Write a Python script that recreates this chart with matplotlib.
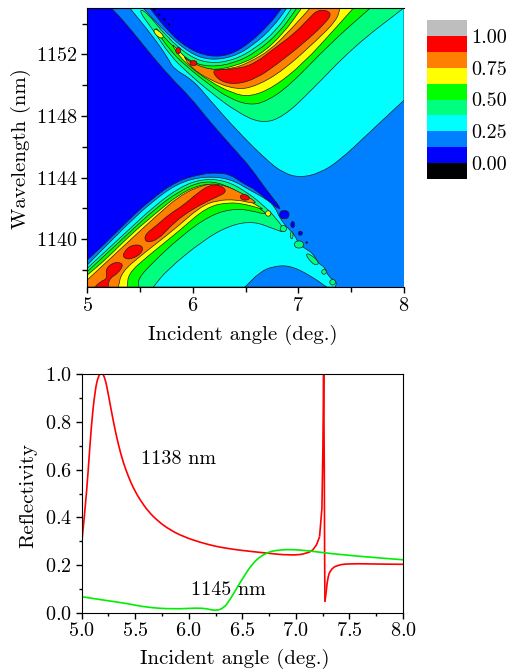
import matplotlib
matplotlib.use('Agg')
import matplotlib.pyplot as plt
from matplotlib.colors import ListedColormap
from matplotlib.path import Path
from matplotlib.patches import PathPatch

plt.rcParams['font.family'] = ['cmr10', 'Liberation Serif', 'DejaVu Serif']
plt.rcParams['axes.formatter.use_mathtext'] = True
plt.rcParams['font.size'] = 14

W, H = 507, 671

BLUE = '#0000ff'
AZURE = '#007fff'
CYAN = '#00ffff'
SPRING = '#00ff7f'
GREEN = '#00ff00'
YELLOW = '#ffff00'
ORANGE = '#ff7f00'
RED = '#ff0000'
bar_colors = ['#000000', BLUE, AZURE, CYAN, SPRING, GREEN, YELLOW, ORANGE, RED, '#bebebe']
bar_levels = [-0.125 + 0.125 * i for i in range(11)]
bar_ticks = [0.0, 0.25, 0.5, 0.75, 1.0]

# contour outlines (angle, wavelength)
blue_left = [(5, 1155), (5.233, 1155), (5.375, 1153.96), (5.596, 1152.06), (5.801, 1150.43), (5.975, 1149.24),
             (6.164, 1147.62), (6.416, 1145.67), (6.543, 1144.70), (6.70, 1143.18), (6.86, 1141.8), (6.74, 1142.3),
             (6.606, 1143.18), (6.48, 1143.61), (6.353, 1144.22), (6.227, 1144.31), (6.10, 1144.26), (5.849, 1143.79),
             (5.596, 1142.53), (5.375, 1141.13), (5.155, 1139.61), (5.0, 1138.64)]
blue_pocket = [(5.596, 1155), (5.785, 1153.35), (5.975, 1152.3), (6.164, 1151.85), (6.353, 1151.95), (6.543, 1152.75),
               (6.732, 1154.0), (6.842, 1155)]

top_cyan = [(5.407, 1155), (5.628, 1153.14), (5.77, 1151.73), (5.817, 1151.08), (6.006, 1150.32), (6.164, 1149.03),
            (6.416, 1147.08), (6.70, 1145.13), (6.858, 1144.3), (7.016, 1144.0), (7.205, 1144.3), (7.394, 1145.13),
            (7.678, 1146.97), (8, 1149.03), (8, 1155), (6.89, 1155), (6.763, 1153.79), (6.574, 1152.6),
            (6.385, 1151.84), (6.164, 1151.62), (5.975, 1152.06), (5.754, 1153.35), (5.533, 1155)]
top_spring = [(5.486, 1154.87), (5.628, 1153.57), (5.785, 1151.95), (5.943, 1150.87), (6.164, 1149.57), (6.416, 1148.27),
              (6.653, 1147.5), (6.858, 1147.95), (7.11, 1149.57), (7.52, 1152.49), (7.994, 1155), (6.937, 1155),
              (6.795, 1153.57), (6.59, 1152.38), (6.385, 1151.62), (6.164, 1151.41), (5.975, 1151.84), (5.754, 1153.14),
              (5.549, 1154.87)]
top_green = [(5.644, 1153.68), (5.785, 1152.27), (5.927, 1151.3), (6.164, 1150.0), (6.353, 1149.13), (6.543, 1148.7),
             (6.70, 1148.95), (6.921, 1150.0), (7.30, 1152.71), (7.678, 1155), (6.984, 1155), (6.826, 1153.46),
             (6.606, 1152.16), (6.385, 1151.41), (6.164, 1151.19), (5.975, 1151.52), (5.785, 1152.71), (5.659, 1153.68)]
top_yellow = [(5.785, 1152.81), (5.912, 1151.52), (6.164, 1150.22), (6.385, 1149.46), (6.543, 1149.25), (6.763, 1149.85),
              (7.047, 1151.41), (7.363, 1153.79), (7.52, 1155), (7.03, 1155), (6.858, 1153.35), (6.637, 1151.95),
              (6.385, 1151.19), (6.164, 1150.97), (6.006, 1151.3), (5.88, 1152.16)]
top_yellow_spot = [(5.64, 1153.75), (5.735, 1153.2), (5.70, 1153.0), (5.63, 1153.4)]
top_orange = [(5.912, 1151.95), (5.975, 1151.19), (6.164, 1150.32), (6.416, 1149.7), (6.606, 1149.95), (6.858, 1150.97),
              (7.174, 1152.92), (7.363, 1154.22), (7.394, 1155), (7.11, 1155), (6.921, 1153.57), (6.732, 1152.27),
              (6.543, 1151.52), (6.385, 1151.08), (6.164, 1150.97), (5.943, 1151.62)]
top_red = [(6.18, 1150.93), (6.259, 1150.25), (6.416, 1150.05), (6.606, 1150.45), (6.795, 1151.35), (7.047, 1152.71),
           (7.268, 1154.11), (7.32, 1154.75), (7.19, 1154.95), (7.095, 1154.3), (6.953, 1153.3), (6.763, 1152.35),
           (6.606, 1151.5), (6.448, 1151.08), (6.259, 1151.02)]
top_red_spot1 = [(5.975, 1151.6), (6.04, 1151.6), (6.04, 1151.28), (5.975, 1151.28)]
top_red_spot2 = [(5.84, 1152.45), (5.885, 1152.45), (5.885, 1152.05), (5.84, 1152.05)]
dash_x = [5.628, 5.785]
dash_y = [1154.98, 1153.9]

arch_cyan = [(5, 1138.31), (5.155, 1139.39), (5.375, 1140.91), (5.596, 1142.32), (5.849, 1143.61), (6.10, 1144.09),
             (6.353, 1143.94), (6.543, 1143.18), (6.70, 1142.6), (6.779, 1142.1), (6.826, 1141.34), (6.905, 1140.69),
             (6.968, 1140.26), (7.0, 1139.72), (7.063, 1139.4), (7.142, 1139.07), (7.189, 1138.42), (7.252, 1138.2),
             (7.284, 1137.55), (7.369, 1137.23), (7.347, 1136.9), (5, 1136.9)]
arch_spring = [(5, 1138.1), (5.186, 1139.29), (5.407, 1140.69), (5.628, 1142.1), (5.88, 1143.4), (6.10, 1143.94),
               (6.322, 1143.79), (6.511, 1143.07), (6.669, 1142.21), (6.795, 1141.34), (6.89, 1140.37), (6.763, 1140.69),
               (6.574, 1141.17), (6.353, 1140.91), (6.10, 1139.94), (5.754, 1137.99), (5.628, 1136.9), (5, 1136.9)]
arch_green = [(5, 1137.88), (5.186, 1139.07), (5.407, 1140.48), (5.628, 1141.88), (5.88, 1143.18), (6.10, 1143.79),
              (6.29, 1143.61), (6.48, 1142.86), (6.637, 1141.99), (6.716, 1141.56), (6.543, 1141.88), (6.385, 1141.99),
              (6.164, 1141.56), (5.88, 1140.15), (5.596, 1138.31), (5.486, 1137.45), (5.486, 1136.9), (5, 1136.9)]
arch_yellow = [(5, 1137.66), (5.186, 1138.74), (5.407, 1140.26), (5.628, 1141.56), (5.88, 1142.97), (6.10, 1143.61),
               (6.259, 1143.51), (6.448, 1142.86), (6.606, 1142.21), (6.685, 1141.88), (6.543, 1142.21), (6.353, 1142.42),
               (6.132, 1142.1), (5.88, 1140.58), (5.565, 1138.85), (5.391, 1137.77), (5.382, 1136.9), (5, 1136.9)]
arch_yellow_spot = [(6.69, 1141.85), (6.74, 1141.85), (6.74, 1141.5), (6.69, 1141.5)]
arch_orange = [(5, 1137.34), (5.186, 1138.53), (5.407, 1139.94), (5.628, 1141.34), (5.88, 1142.86), (6.10, 1143.55),
               (6.259, 1143.61), (6.448, 1143.07), (6.606, 1142.42), (6.574, 1142.32), (6.416, 1142.58), (6.227, 1142.53),
               (6.069, 1142.1), (5.817, 1140.58), (5.533, 1139.07), (5.328, 1137.88), (5.297, 1136.9), (5, 1136.9)]
arch_red_a = [(5.085, 1137.0), (5.139, 1137.29), (5.192, 1137.45), (5.175, 1138.1), (5.265, 1138.55), (5.35, 1138.4),
              (5.297, 1137.8), (5.211, 1137.45), (5.2, 1136.9), (5.08, 1136.9)]
arch_red_b = [(5.34, 1139.1), (5.42, 1139.65), (5.53, 1139.6), (5.52, 1139.1), (5.423, 1138.7), (5.35, 1138.75)]
arch_red_c = [(5.54, 1140.26), (5.659, 1140.9), (5.785, 1141.66), (5.912, 1142.2), (6.038, 1142.96), (6.164, 1143.55),
              (6.27, 1143.5), (6.33, 1143.07), (6.196, 1142.65), (6.069, 1142.22), (5.912, 1141.57), (5.785, 1140.81),
              (5.675, 1140.0), (5.56, 1139.75)]
arch_red_d = [(6.44, 1142.85), (6.511, 1142.95), (6.55, 1142.6), (6.47, 1142.5)]
arch_azure = [(6.495, 1136.9), (6.637, 1137.88), (6.763, 1138.25), (6.921, 1138.3), (7.11, 1137.66), (7.268, 1136.9)]

spring_spots = [
    [(6.828, 1140.89), (6.888, 1140.89), (6.888, 1140.49), (6.828, 1140.49)],
    [(6.924, 1140.49), (6.95, 1140.49), (6.95, 1140.03), (6.924, 1140.03)],
    [(6.964, 1139.89), (7.048, 1139.89), (7.048, 1139.43), (6.964, 1139.43)],
    [(7.065, 1139.05), (7.11, 1139.05), (7.20, 1138.5), (7.17, 1138.3), (7.12, 1138.5)],
    [(7.221, 1138.03), (7.265, 1138.03), (7.265, 1137.73), (7.221, 1137.73)],
    [(7.298, 1137.39), (7.352, 1137.39), (7.352, 1137.03), (7.298, 1137.03)],
]
blue_spots = [
    [(6.822, 1141.87), (6.912, 1141.87), (6.912, 1141.33), (6.822, 1141.33)],
    [(6.929, 1141.15), (6.965, 1141.15), (6.965, 1140.75), (6.929, 1140.75)],
    [(6.999, 1140.52), (7.039, 1140.52), (7.039, 1140.26), (6.999, 1140.26)],
    [(7.071, 1139.84), (7.087, 1139.84), (7.087, 1139.74), (7.071, 1139.74)],
]

# reflectivity curves, spike around 7.25 kept apart since it has to stay sharp
red_left = [(5, 0.291), (5.03, 0.424), (5.06, 0.59), (5.09, 0.787), (5.125, 0.934), (5.156, 0.995), (5.187, 1.008),
            (5.218, 0.985), (5.25, 0.913), (5.296, 0.80), (5.343, 0.703), (5.39, 0.627), (5.436, 0.571), (5.483, 0.522),
            (5.545, 0.473), (5.623, 0.424), (5.717, 0.382), (5.826, 0.347), (5.95, 0.319), (6.106, 0.295),
            (6.262, 0.277), (6.386, 0.268), (6.48, 0.262), (6.682, 0.252), (6.947, 0.24), (7.103, 0.247), (7.181, 0.27),
            (7.221, 0.319)]
red_spike = [(7.221, 0.319), (7.243, 0.438), (7.252, 0.69), (7.259, 1.0), (7.265, 0.62), (7.268, 0.256), (7.271, 0.046)]
red_right = [(7.271, 0.046), (7.28, 0.074), (7.296, 0.144), (7.321, 0.179), (7.383, 0.2), (7.508, 0.206), (7.757, 0.204),
             (8, 0.203)]
green_line = [(5, 0.067), (5.2, 0.053), (5.42, 0.039), (5.607, 0.022), (5.857, 0.015), (6.075, 0.02), (6.168, 0.017),
              (6.246, 0.008), (6.324, 0.018), (6.386, 0.055), (6.48, 0.128), (6.604, 0.214), (6.729, 0.254), (6.854, 0.264),
              (6.978, 0.265), (7.134, 0.259), (7.321, 0.248), (7.632, 0.235), (8, 0.222)]


def on_edge(p):
    return p[0] <= 5 or p[0] >= 8 or p[1] <= 1136.9 or p[1] >= 1155


def smooth_outline(pts):
    # quadratic bezier through the midpoints, corners on the frame stay sharp
    pts = [q for p in pts for q in ([p, p] if on_edge(p) else [p])]
    mid = lambda a, b: ((a[0] + b[0]) / 2, (a[1] + b[1]) / 2)
    start = mid(pts[-1], pts[0])
    verts = [start]
    codes = [Path.MOVETO]
    for i, p in enumerate(pts):
        verts += [p, mid(p, pts[(i + 1) % len(pts)])]
        codes += [Path.CURVE3, Path.CURVE3]
    return Path(verts, codes)


def smooth_line(pts):
    verts = [pts[0]]
    codes = [Path.MOVETO]
    for i in range(1, len(pts) - 1):
        verts += [pts[i], ((pts[i][0] + pts[i + 1][0]) / 2, (pts[i][1] + pts[i + 1][1]) / 2)]
        codes += [Path.CURVE3, Path.CURVE3]
    verts.append(pts[-1])
    codes.append(Path.LINETO)
    return Path(verts, codes)


def px_axes(fig, left, top, right, bottom):
    return fig.add_axes([left / W, 1 - bottom / H, (right - left) / W, (bottom - top) / H])


def patch(ax, outline, color, lw=0.5):
    ax.add_patch(PathPatch(smooth_outline(outline), facecolor=color, edgecolor='#202020', linewidth=lw))


fig = plt.figure(figsize=(W / 100, H / 100), dpi=100)

ax1 = px_axes(fig, 87, 7.5, 404, 287)
ax1.set_facecolor(AZURE)
patch(ax1, blue_left, BLUE)
patch(ax1, blue_pocket, BLUE)
for outline, color in [(top_cyan, CYAN), (top_spring, SPRING), (top_green, GREEN), (top_yellow, YELLOW),
                       (top_yellow_spot, YELLOW), (top_orange, ORANGE), (top_red, RED), (top_red_spot1, RED),
                       (top_red_spot2, RED), (arch_cyan, CYAN), (arch_spring, SPRING), (arch_green, GREEN),
                       (arch_yellow, YELLOW), (arch_yellow_spot, YELLOW), (arch_orange, ORANGE), (arch_red_a, RED),
                       (arch_red_b, RED), (arch_red_c, RED), (arch_red_d, RED), (arch_azure, AZURE)]:
    patch(ax1, outline, color)
for spot in spring_spots:
    patch(ax1, spot, SPRING)
for spot in blue_spots:
    patch(ax1, spot, BLUE)
ax1.plot(dash_x, dash_y, color='black', lw=1, ls=(0, (2, 3)))
ax1.set_xlim(5, 8)
ax1.set_ylim(1136.9, 1155.05)
ax1.set_xticks([5, 6, 7, 8])
ax1.set_xticks([5.5, 6.5, 7.5], minor=True)
ax1.set_yticks([1140, 1144, 1148, 1152])
ax1.set_yticks([1138, 1142, 1146, 1150, 1154], minor=True)
ax1.set_xlabel('Incident angle (deg.)', fontsize=15)
ax1.xaxis.set_label_coords(0.49, -0.135)
ax1.set_ylabel('Wavelength (nm)', fontsize=15)
ax1.yaxis.set_label_coords(-0.178, 0.495)
ax1.spines['right'].set_visible(False)
ax1.tick_params(which='major', length=4, width=1, labelsize=14.5, pad=3)
ax1.tick_params(which='minor', length=3.5, width=1)

cax = px_axes(fig, 427, 20, 467, 179)
cax.pcolormesh([0, 1], bar_levels, [[v] for v in bar_levels[:-1]], cmap=ListedColormap(bar_colors),
               vmin=-0.125, vmax=1.125)
cax.set_xticks([])
cax.yaxis.tick_right()
cax.set_yticks(bar_ticks)
cax.set_yticklabels(['%.2f' % v for v in bar_ticks])
cax.tick_params(length=0, labelsize=14.5, pad=3)
for s in cax.spines.values():
    s.set_visible(False)

ax2 = px_axes(fig, 81.7, 374.3, 403, 612.7)
for seg in (red_left, red_spike, red_right):
    ax2.add_patch(PathPatch(smooth_line(seg) if seg is not red_spike else Path(seg), fill=False,
                            edgecolor='#ff0000', lw=1.2))
ax2.add_patch(PathPatch(smooth_line(green_line), fill=False, edgecolor='#00ee00', lw=1.2))
ax2.set_xlim(5, 8)
ax2.set_ylim(0, 1)
ax2.set_xticks([5, 5.5, 6, 6.5, 7, 7.5, 8])
ax2.set_xticks([5.25, 5.75, 6.25, 6.75, 7.25, 7.75], minor=True)
ax2.set_yticks([0, 0.2, 0.4, 0.6, 0.8, 1.0])
ax2.set_yticks([0.1, 0.3, 0.5, 0.7, 0.9], minor=True)
ax2.tick_params(which='major', length=4, width=1, labelsize=14.5, pad=3)
ax2.tick_params(which='minor', length=2.5, width=1)
for side in ('top', 'right'):
    ax2.spines[side].set_linewidth(0.8)
ax2.set_xlabel('Incident angle (deg.)', fontsize=15)
ax2.xaxis.set_label_coords(0.475, -0.152)
ax2.set_ylabel('Reflectivity', fontsize=15)
ax2.yaxis.set_label_coords(-0.139, 0.49)
ax2.text(5.55, 0.645, '1138 nm', fontsize=14.5, va='center')
ax2.text(6.02, 0.097, '1145 nm', fontsize=14.5, va='center')

fig.savefig('out.png', dpi=100)
